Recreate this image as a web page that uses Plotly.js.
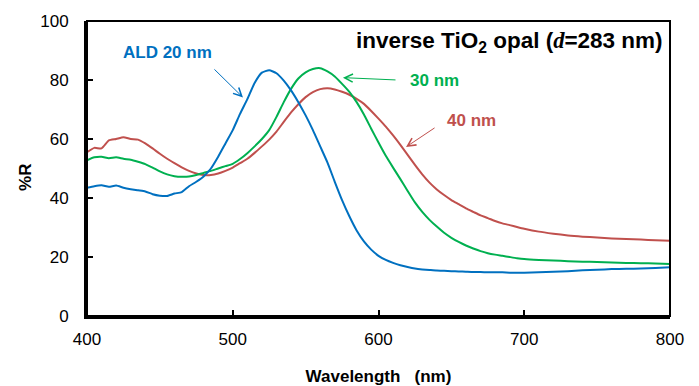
<!DOCTYPE html>
<html>
<head>
<meta charset="utf-8">
<script src="https://cdn.plot.ly/plotly-3.0.1.min.js"></script>
<style>html,body{margin:0;padding:0;background:#fff;}#chart{width:699px;height:386px;}</style>
</head>
<body>
<div id="chart"></div>
<script>
// Wavelength (nm)
const wavelength = [400,405,410,415,420,425,430,435,440,445,450,455,460,465,470,475,480,485,490,495,
  500,505,510,515,520,525,530,535,540,545,550,555,560,565,570,575,580,585,590,595,
  600,605,610,615,620,625,630,635,640,645,650,655,660,665,670,675,680,685,690,695,
  700,710,720,730,740,750,760,770,780,790,800];
// %R for ALD 20 nm
const ald20 = [43.5,44.0,44.3,43.8,44.2,43.5,43.0,42.6,42.2,41.3,40.8,40.7,41.5,42.0,44.0,45.5,47.3,50.0,54.0,58.5,
  63.0,68.5,73.5,79.0,82.5,83.3,82.3,79.8,76.5,72.5,68.0,63.0,57.5,52.0,45.5,39.3,33.8,29.0,25.3,22.5,
  20.4,19.0,18.0,17.2,16.6,16.1,15.8,15.6,15.4,15.3,15.2,15.1,15.0,14.9,14.9,14.8,14.8,14.8,14.7,14.7,
  14.7,14.8,15.0,15.2,15.5,15.7,15.9,16.0,16.1,16.3,16.5];
// %R for 30 nm
const ald30 = [52.8,53.8,54.0,53.5,53.8,53.3,53.0,52.3,51.5,50.3,49.0,48.0,47.4,47.2,47.3,47.8,48.5,49.2,50.0,50.8,
  51.6,53.2,55.2,57.5,60.0,63.0,67.5,72.5,77.0,80.5,82.6,83.7,84.0,82.9,81.2,78.7,76.0,72.5,68.3,63.5,
  58.8,54.3,50.3,46.4,42.4,38.5,35.3,32.6,30.3,28.2,26.5,25.1,23.9,22.9,22.0,21.3,20.8,20.4,20.0,19.6,
  19.3,19.0,18.8,18.6,18.4,18.3,18.1,18.0,17.9,17.8,17.6];
// %R for 40 nm
const ald40 = [55.5,57.0,56.8,59.5,60.0,60.6,60.0,59.8,58.5,56.8,55.0,53.3,51.8,50.4,49.2,48.3,47.8,47.8,48.3,49.2,
  50.3,51.8,53.3,55.3,57.5,59.8,62.5,65.8,69.0,71.8,74.2,75.9,76.9,77.2,76.8,76.0,75.0,73.6,71.9,69.5,
  66.9,64.2,61.2,58.0,54.6,51.2,48.0,45.2,42.9,41.0,39.3,37.9,36.5,35.3,34.1,33.2,32.2,31.4,30.8,30.2,
  29.6,28.6,27.9,27.3,26.9,26.6,26.3,26.1,25.9,25.7,25.5];

const xTicks = [400,500,600,700,800];
const yTicks = [0,20,40,60,80,100];

const BLUE = '#0070C0', GREEN = '#00B050', RED = '#C0504D';
const FONT = 'Liberation Sans, Arial, sans-serif';

const mk = (y, c) => ({x: wavelength, y: y, type: 'scatter', mode: 'lines',
  line: {color: c, width: 2, shape: 'spline', smoothing: 0.5}, hoverinfo: 'skip'});

const data = [mk(ald40, RED), mk(ald30, GREEN), mk(ald20, BLUE)];

const arrow = (hx, hy, tx, ty, c) => ({x: hx, y: hy, ax: tx, ay: ty, axref: 'x', ayref: 'y',
  xref: 'x', yref: 'y', text: '', showarrow: true, arrowhead: 5, arrowsize: 1.6,
  arrowwidth: 1, arrowcolor: c, standoff: 0, startstandoff: 0});
const label = (x, y, t, c) => ({x: x, y: y, xref: 'x', yref: 'y', text: '<b>' + t + '</b>',
  showarrow: false, font: {family: FONT, size: 17, color: c}});

const layout = {
  width: 699, height: 386,
  margin: {l: 87, r: 29, t: 21, b: 70, pad: 0},
  paper_bgcolor: '#fff', plot_bgcolor: '#fff',
  showlegend: false,
  font: {family: FONT, color: '#000'},
  xaxis: {range: [400, 800], tickvals: xTicks, ticktext: xTicks.map(String),
    ticks: 'inside', ticklen: 6, tickwidth: 2, tickcolor: '#000',
    showline: true, linewidth: 3, linecolor: '#000', showgrid: false, zeroline: false,
    tickfont: {size: 17, family: FONT}, ticklabelstandoff: 6,
    title: {text: '<b>Wavelength&nbsp;&nbsp;&nbsp;(nm)</b>', font: {size: 17, family: FONT}, standoff: 22}},
  yaxis: {range: [0, 100], tickvals: yTicks, ticktext: yTicks.map(String),
    ticks: 'inside', ticklen: 6, tickwidth: 2, tickcolor: '#000',
    showline: true, linewidth: 3, linecolor: '#000', showgrid: false, zeroline: false,
    tickfont: {size: 17, family: FONT}, ticklabelstandoff: 12},
  shapes: [{type: 'rect', xref: 'paper', yref: 'paper', x0: 0, x1: 1, y0: 0, y1: 1,
    line: {color: '#000', width: 2}, fillcolor: 'rgba(0,0,0,0)'}],
  annotations: [
    {x: -0.125, y: 0.47, xref: 'paper', yref: 'paper', showarrow: false, textangle: -90,
     text: '<b>%R</b>', font: {family: FONT, size: 17, color: '#000'}},
    {x: 583.0, y: 92.9, xref: 'x', yref: 'y', xanchor: 'left', showarrow: false,
     text: '<b>inverse TiO<sub>2</sub> opal (<span style="font-family:Liberation Serif, Times New Roman, serif"><i>d</i></span>=283 nm)</b>',
     font: {family: FONT, size: 22.5, color: '#000'}},
    label(455.2, 89.2, 'ALD 20 nm', BLUE),
    label(638.4, 79.7, '30 nm', GREEN),
    label(664, 66.4, '40 nm', RED),
    arrow(507, 74.1, 486.4, 84.1, BLUE),
    arrow(575.6, 80.8, 612.7, 80.0, GREEN),
    arrow(618.9, 57.3, 639.5, 64.1, RED)
  ]
};

Plotly.newPlot('chart', data, layout, {staticPlot: true, displayModeBar: false});
</script>
</body>
</html>
